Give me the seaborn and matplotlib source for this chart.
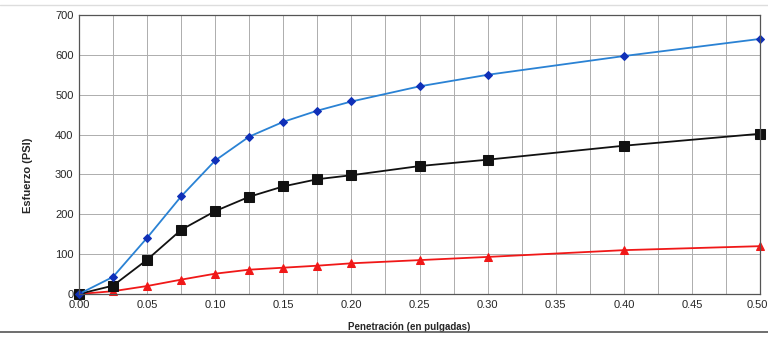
import numpy as np
import pandas as pd
import matplotlib
matplotlib.use('Agg')
import matplotlib.pyplot as plt
import matplotlib.transforms as mtransforms
import seaborn as sns
from matplotlib.lines import Line2D

# Datos
penetracion = [0.0, 0.025, 0.05, 0.075, 0.10, 0.125, 0.15, 0.175, 0.20, 0.25, 0.30, 0.40, 0.50]
esfuerzo_azul = [0, 43, 141, 245, 335, 395, 432, 460, 483, 521, 550, 597, 640]
esfuerzo_negro = [0, 21, 86, 161, 208, 244, 270, 288, 298, 321, 337, 372, 402]
esfuerzo_rojo = [0, 7, 20, 36, 51, 61, 66, 71, 77, 85, 93, 110, 120]

x_ticks = [0.0, 0.05, 0.10, 0.15, 0.20, 0.25, 0.30, 0.35, 0.40, 0.45, 0.50]
y_ticks = [0, 100, 200, 300, 400, 500, 600, 700]

sns.set_style('white')
plt.rcParams['font.family'] = ['Liberation Sans', 'DejaVu Sans']

fig = plt.figure(figsize=(7.68, 3.38), dpi=100)
ax = fig.add_axes([0.1029, 0.1302, 0.8867, 0.8254])

sns.lineplot(x=penetracion, y=esfuerzo_rojo, ax=ax, color='#f01818', lw=1.3,
             marker='^', markersize=6, markeredgecolor='#f01818', clip_on=False)
sns.lineplot(x=penetracion, y=esfuerzo_negro, ax=ax, color='#111111', lw=1.3,
             marker='s', markersize=7, markeredgecolor='#111111', clip_on=False)
sns.lineplot(x=penetracion, y=esfuerzo_azul, ax=ax, color='#2a82d4', lw=1.3,
             marker='D', markersize=4.5, markerfacecolor='#1030b8',
             markeredgecolor='#1030b8', clip_on=False)

ax.set_xlim(0, 0.5)
ax.set_ylim(0, 700)
ax.set_xticks(x_ticks)
ax.set_xticklabels([f'{t:.2f}' for t in x_ticks], fontsize=8)
ax.set_xticks(np.arange(0.025, 0.5, 0.05), minor=True)
ax.set_yticks(y_ticks)
ax.set_yticklabels([str(t) for t in y_ticks], fontsize=8)
ax.grid(True, which='both', color='#adadad', lw=0.7)
ax.tick_params(axis='both', which='both', length=0, pad=4)
for s in ax.spines.values():
    s.set_color('#555555')
    s.set_linewidth(0.9)

# la última etiqueta queda pegada al borde; se corre un poco a la izquierda
last = ax.get_xticklabels()[-1]
last.set_transform(last.get_transform() + mtransforms.ScaledTranslation(-3 / 100, 0, fig.dpi_scale_trans))

ax.set_xlabel('Penetración (en pulgadas)', fontsize=7, fontweight='bold')
ax.xaxis.set_label_coords(0.485, -0.10)
ax.set_ylabel('Esfuerzo (PSI)', fontsize=8, fontweight='bold')
ax.yaxis.set_label_coords(-0.068, 0.427)

# líneas del borde del escaneo
fig.add_artist(Line2D([0.0, 1.0], [0.018, 0.018], color='#555555', lw=1.2))
fig.add_artist(Line2D([0.0, 1.0], [0.985, 0.985], color='#dddddd', lw=1.0))

fig.savefig('out.png', dpi=100)
